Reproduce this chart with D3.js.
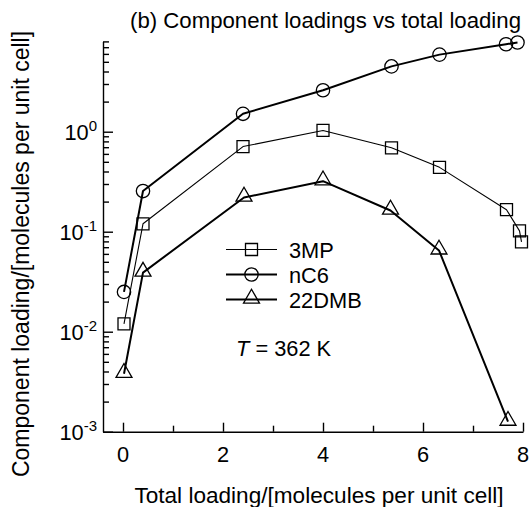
<!DOCTYPE html>
<html>
<head>
<meta charset="utf-8">
<script src="https://cdn.jsdelivr.net/npm/d3@7"></script>
<style>
  html, body { margin: 0; padding: 0; background: #fff; }
  svg { display: block; }
  text { font-family: "Liberation Sans", Arial, Helvetica, sans-serif; fill: #000; }
</style>
</head>
<body>
<svg id="chart" width="531" height="507"></svg>
<script>
// ---- data ----
const seriesNames = ["3MP", "nC6", "22DMB"];
const x3MP   = [0.02, 0.40, 2.40, 4.00, 5.37, 6.33, 7.67, 7.93, 7.97];
const y3MP   = [0.012, 0.12, 0.71, 1.03, 0.69, 0.44, 0.166, 0.102, 0.079];
const xnC6   = [0.02, 0.40, 2.40, 4.00, 5.37, 6.33, 7.66, 7.89];
const ynC6   = [0.025, 0.255, 1.51, 2.6, 4.5, 5.9, 7.5, 7.8];
const x22DMB = [0.02, 0.40, 2.42, 4.00, 5.35, 6.32, 7.70];
const y22DMB = [0.0038, 0.039, 0.22, 0.32, 0.163, 0.065, 0.00126];
const xMajorTicks = [0, 2, 4, 6, 8];
const xMinorTicks = [1, 3, 5, 7];
const yMajorExponents = [-3, -2, -1, 0];
const titleText = "(b) Component loadings vs total loading";
const xLabelText = "Total loading/[molecules per unit cell]";
const yLabelText = "Component loading/[molecules per unit cell]";

const svg = d3.select("#chart");
const FS = 21.8;

const x = d3.scaleLinear().domain([-0.4, 8]).range([103, 523]);
const y = d3.scaleLog().domain([1e-3, 8]).range([431.7, 41.4]);

const yMajor = yMajorExponents.map(e => Math.pow(10, e));
const yMinor = [];
yMajorExponents.forEach(e => { for (let k = 2; k <= 9; k++) { const v = k * Math.pow(10, e); if (v <= 8.0001) yMinor.push(v); } });

// axes
svg.append("g").attr("transform", `translate(0,${y.range()[0]})`)
   .call(d3.axisBottom(x).tickValues(xMajorTicks).tickSizeInner(-9).tickSizeOuter(0).tickFormat(""));
svg.append("g").attr("transform", `translate(0,${y.range()[0]})`)
   .call(d3.axisBottom(x).tickValues(xMinorTicks).tickSizeInner(-6).tickSizeOuter(0).tickFormat(""))
   .select(".domain").remove();

svg.append("g").attr("transform", `translate(${x.range()[0]},0)`)
   .call(d3.axisLeft(y).tickValues(yMajor).tickSizeInner(-10).tickSizeOuter(0).tickFormat(""));
svg.append("g").attr("transform", `translate(${x.range()[0]},0)`)
   .call(d3.axisLeft(y).tickValues(yMinor).tickSizeInner(-6).tickSizeOuter(0).tickFormat(""))
   .select(".domain").remove();

svg.selectAll(".domain, .tick line").attr("stroke", "#000").attr("stroke-width", 1.4);

// x tick labels
svg.append("g").selectAll("text").data(xMajorTicks).join("text")
  .attr("x", d => x(d)).attr("y", 462)
  .attr("text-anchor", "middle").attr("font-size", FS)
  .text(d => d);

// y tick labels with superscripts
const yl = svg.append("g").selectAll("text").data(yMajorExponents).join("text")
  .attr("x", 97).attr("y", d => y(Math.pow(10, d)) + 8)
  .attr("text-anchor", "end").attr("font-size", FS);
yl.append("tspan").text("10");
yl.append("tspan").attr("font-size", 15).attr("dy", -9).text(d => d === 0 ? "0" : "-" + (-d));

// axis labels & title
svg.append("text").attr("x", 130).attr("y", 28).attr("font-size", 22.2).text(titleText);
svg.append("text").attr("x", 319).attr("y", 503).attr("text-anchor", "middle").attr("font-size", 22.6).text(xLabelText);
svg.append("text").attr("transform", "translate(29,254) rotate(-90)").attr("text-anchor", "middle").attr("font-size", 23).text(yLabelText);

// series
const series = [
  { name: "3MP",   xs: x3MP,   ys: y3MP,   lw: 1.1, marker: "square" },
  { name: "nC6",   xs: xnC6,   ys: ynC6,   lw: 2.0, marker: "circle" },
  { name: "22DMB", xs: x22DMB, ys: y22DMB, lw: 2.0, marker: "triangle" }
];
const line = d3.line().x(d => x(d[0])).y(d => y(d[1]));
const sym = { square: d3.symbolSquare, circle: d3.symbolCircle, triangle: d3.symbolTriangle };
const symSize = { square: 144, circle: 140, triangle: 110 };

function drawMarker(g, type, cx, cy) {
  g.append("path")
    .attr("d", d3.symbol().type(sym[type]).size(symSize[type])())
    .attr("transform", `translate(${cx},${cy + (type === "triangle" ? -1 : 0)})`)
    .attr("fill", "none").attr("stroke", "#000").attr("stroke-width", 1.3);
}

series.forEach(s => {
  const pts = s.xs.map((v, i) => [v, s.ys[i]]);
  svg.append("path").datum(pts).attr("d", line)
    .attr("fill", "none").attr("stroke", "#000").attr("stroke-width", s.lw).attr("stroke-linejoin", "round");
  const g = svg.append("g");
  pts.forEach(p => drawMarker(g, s.marker, x(p[0]), y(p[1])));
});

// legend
const legY = [249.5, 274.5, 299.5];
series.forEach((s, i) => {
  const g = svg.append("g");
  g.append("line").attr("x1", 226).attr("x2", 277).attr("y1", legY[i]).attr("y2", legY[i])
    .attr("stroke", "#000").attr("stroke-width", s.lw);
  drawMarker(g, s.marker, 251.5, legY[i]);
  g.append("text").attr("x", 289).attr("y", legY[i] + 8).attr("font-size", FS).text(s.name);
});

// temperature annotation
const tt = svg.append("text").attr("x", 236).attr("y", 356).attr("font-size", FS);
tt.append("tspan").attr("font-style", "italic").text("T");
tt.append("tspan").text(" = 362 K");
</script>
</body>
</html>
